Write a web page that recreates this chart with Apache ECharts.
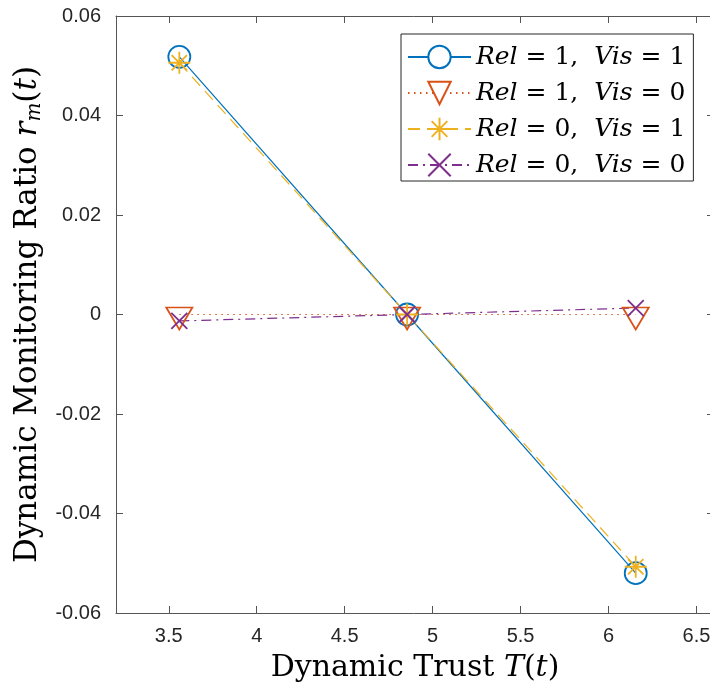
<!DOCTYPE html>
<html>
<head>
<meta charset="utf-8">
<script src="https://cdn.jsdelivr.net/npm/echarts@6/dist/echarts.min.js"></script>
<style>
html,body{margin:0;padding:0;background:#fff;}
#c{width:710px;height:688px;}
</style>
</head>
<body>
<div id="c"></div>
<script>
// ---- data ----
const trustX = [3.56, 4.855, 6.155];
const rel1vis1 = [0.0518, 0.0, -0.0520];
const rel1vis0 = [0.0, 0.0, 0.0];
const rel0vis1 = [0.0506, 0.0, -0.0507];
const rel0vis0 = [-0.0013, 0.0, 0.0013];
const relVals = ['1', '1', '0', '0'];
const visVals = ['1', '0', '1', '0'];
const xTickLabels = ['3.5', '4', '4.5', '5', '5.5', '6', '6.5'];
const yTickLabels = ['-0.06', '-0.04', '-0.02', '0', '0.02', '0.04', '0.06'];

const colors = ['#0072BD', '#D95319', '#EDB120', '#7E2F8E'];
const seriesNames = relVals.map((r, i) => 'Rel = ' + r + ', Vis = ' + visVals[i]);
const pairs = arr => trustX.map((x, i) => [x, arr[i]]);

const starPath = 'path://M10,0L10,20M0,10L20,10M3,3L17,17M17,3L3,17';
const xPath = 'path://M0,0L10,10M10,0L0,10';
const triPath = 'path://M0,0L26,0L13,22Z';

const axisColor = '#555';
const tickFont = { fontFamily: 'Liberation Sans', fontSize: 20, color: '#262626' };

function xAxisCfg(pos, showLabel) {
  return {
    type: 'value', position: pos, min: 3.2, max: 6.6, splitNumber: 7,
    axisLine: { show: true, onZero: false, lineStyle: { color: axisColor, width: 1 } },
    axisTick: { show: true, inside: true, length: 7, lineStyle: { color: axisColor } },
    splitLine: { show: false },
    axisLabel: Object.assign({
      show: showLabel, margin: 13, showMinLabel: false, showMaxLabel: false,
      formatter: v => {
        const idx = Math.round((v - 3.5) / 0.5);
        return xTickLabels[idx] !== undefined ? xTickLabels[idx] : '';
      }
    }, tickFont)
  };
}
function yAxisCfg(pos, showLabel, showLine) {
  return {
    type: 'value', position: pos, min: -0.06, max: 0.06, interval: 0.02,
    axisLine: { show: showLine, onZero: false, lineStyle: { color: axisColor, width: 1 } },
    axisTick: { show: true, inside: true, length: 7, lineStyle: { color: axisColor } },
    splitLine: { show: false },
    axisLabel: Object.assign({
      show: showLabel, margin: 15,
      formatter: v => {
        const idx = Math.round((v + 0.06) / 0.02);
        return yTickLabels[idx] !== undefined ? yTickLabels[idx] : '';
      }
    }, tickFont)
  };
}

const xMain = xAxisCfg('bottom', true);
xMain.name = 'Dynamic Trust {i|T}({i|t})';
xMain.nameLocation = 'middle';
xMain.nameGap = 40;
xMain.nameTextStyle = {
  fontFamily: 'DejaVu Serif', fontSize: 30, color: '#000',
  rich: { i: { fontFamily: 'DejaVu Serif', fontStyle: 'italic', fontSize: 30, color: '#000' } }
};
const yMain = yAxisCfg('left', true, true);
yMain.name = 'Dynamic Monitoring Ratio {i|r}{s|m}({i|t})';
yMain.nameLocation = 'middle';
yMain.nameRotate = 90;
yMain.nameGap = 71;
yMain.nameTextStyle = {
  fontFamily: 'DejaVu Serif', fontSize: 31, color: '#000', lineHeight: 34,
  rich: {
    i: { fontFamily: 'DejaVu Serif', fontStyle: 'italic', fontSize: 31, color: '#000', lineHeight: 34 },
    s: { fontFamily: 'DejaVu Serif', fontStyle: 'italic', fontSize: 20, color: '#000', lineHeight: 34, verticalAlign: 'bottom', padding: [8, 0, 0, 0] }
  }
};

const chart = echarts.init(document.getElementById('c'), null, { renderer: 'canvas' });
chart.setOption({
  animation: false,
  backgroundColor: '#fff',
  grid: { left: 116, top: 16, right: -4, bottom: 75, containLabel: false, outerBoundsMode: 'none' },
  xAxis: [xMain, xAxisCfg('top', false)],
  yAxis: [yMain, yAxisCfg('right', false, false)],
  legend: {
    orient: 'vertical', left: 401, top: 34,
    padding: [8, 8, 1, 6],
    itemWidth: 63, itemHeight: 28, itemGap: 6,
    backgroundColor: '#fff', borderColor: '#262626', borderWidth: 1,
    selectedMode: false,
    data: seriesNames.map((n, i) => ({ name: n, itemStyle: (i < 2 ? { color: '#fff' } : {}) })),
    formatter: name => {
      const i = seriesNames.indexOf(name);
      return '{i|Rel} = ' + relVals[i] + ',  {i|Vis} = ' + visVals[i];
    },
    textStyle: {
      fontFamily: 'DejaVu Serif', fontSize: 25, color: '#000', lineHeight: 30,
      rich: { i: { fontFamily: 'DejaVu Serif', fontStyle: 'italic', fontSize: 25, color: '#000', lineHeight: 30 } }
    }
  },
  series: [
    {
      name: seriesNames[0], type: 'line', data: pairs(rel1vis1),
      symbol: 'circle', symbolSize: 22,
      lineStyle: { color: colors[0], width: 1.2, type: 'solid' },
      itemStyle: { color: 'transparent', borderColor: colors[0], borderWidth: 1.8 }
    },
    {
      name: seriesNames[1], type: 'line', data: pairs(rel1vis0),
      symbol: triPath, symbolSize: [26, 22], symbolOffset: [0, 4],
      lineStyle: { color: colors[1], width: 1.2, type: [1.5, 4.5] },
      itemStyle: { color: 'transparent', borderColor: colors[1], borderWidth: 1.8 }
    },
    {
      name: seriesNames[2], type: 'line', data: pairs(rel0vis1),
      symbol: starPath, symbolSize: 22,
      lineStyle: { color: colors[2], width: 1.2, type: [12, 7] },
      itemStyle: { color: 'transparent', borderColor: colors[2], borderWidth: 1.8 }
    },
    {
      name: seriesNames[3], type: 'line', data: pairs(rel0vis0),
      symbol: xPath, symbolSize: 16,
      lineStyle: { color: colors[3], width: 1.2, type: [10, 5, 2, 5] },
      itemStyle: { color: 'transparent', borderColor: colors[3], borderWidth: 1.8 }
    }
  ]
});
</script>
</body>
</html>
